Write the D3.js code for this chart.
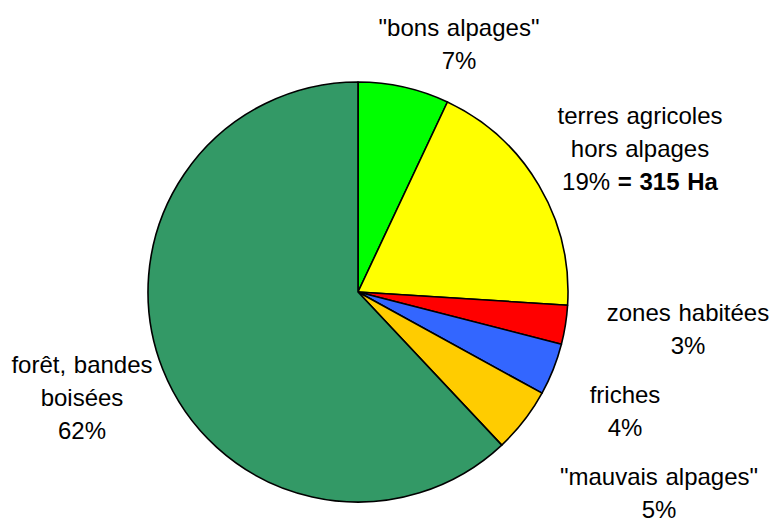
<!DOCTYPE html>
<html>
<head>
<meta charset="utf-8">
<script src="https://cdn.jsdelivr.net/npm/d3@7"></script>
<style>
  body { margin: 0; background: #fff; }
  text { font-family: "Liberation Sans", Arial, sans-serif; font-size: 24px; fill: #000; }
</style>
</head>
<body>
<svg id="chart" width="775" height="518"></svg>
<script>
// slices, clockwise from 12 o'clock
const categories = ["\"bons alpages\"", "terres agricoles hors alpages", "zones habitées", "friches", "\"mauvais alpages\"", "forêt, bandes boisées"]
const values = [7, 19, 3, 4, 5, 62]
const colors = ["#00ff00", "#ffff00", "#ff0000", "#3366ff", "#ffcc00", "#339966"]
// label lines (last line gets the percent)
const labelLines = [
  ["\"bons alpages\""],
  ["terres agricoles", "hors alpages"],
  ["zones habitées"],
  ["friches"],
  ["\"mauvais alpages\""],
  ["forêt, bandes", "boisées"]
]
const extra = ["", " = 315 Ha", "", "", "", ""]
const labelPos = [[459, 36], [640, 124], [688, 321], [625, 403], [659, 485], [82, 373]]

const svg = d3.select("#chart")
const cx = 358, cy = 292, r = 210

const data = values.map((v, i) => ({name: categories[i], value: v, i: i}))

const pie = d3.pie().value(d => d.value).sort(null)
const arc = d3.arc().innerRadius(0).outerRadius(r)

const g = svg.append("g").attr("transform", "translate(" + cx + "," + cy + ")")

g.selectAll("path")
  .data(pie(data))
  .enter()
  .append("path")
  .attr("d", arc)
  .attr("fill", d => colors[d.data.i])
  .attr("stroke", "#000")
  .attr("stroke-width", 1.6)
  .attr("stroke-linejoin", "round")

const lh = 33
data.forEach((d, i) => {
  const t = svg.append("text")
    .attr("text-anchor", "middle")
    .attr("x", labelPos[i][0])
    .attr("y", labelPos[i][1])
    .style("word-spacing", "1px")
  labelLines[i].forEach((line, j) => {
    t.append("tspan").attr("x", labelPos[i][0]).attr("dy", j == 0 ? 0 : lh).text(line)
  })
  t.append("tspan").attr("x", labelPos[i][0]).attr("dy", lh).text(d.value + "%")
  if (extra[i]) {
    t.append("tspan").style("font-weight", "bold").text(extra[i])
  }
})
</script>
</body>
</html>
